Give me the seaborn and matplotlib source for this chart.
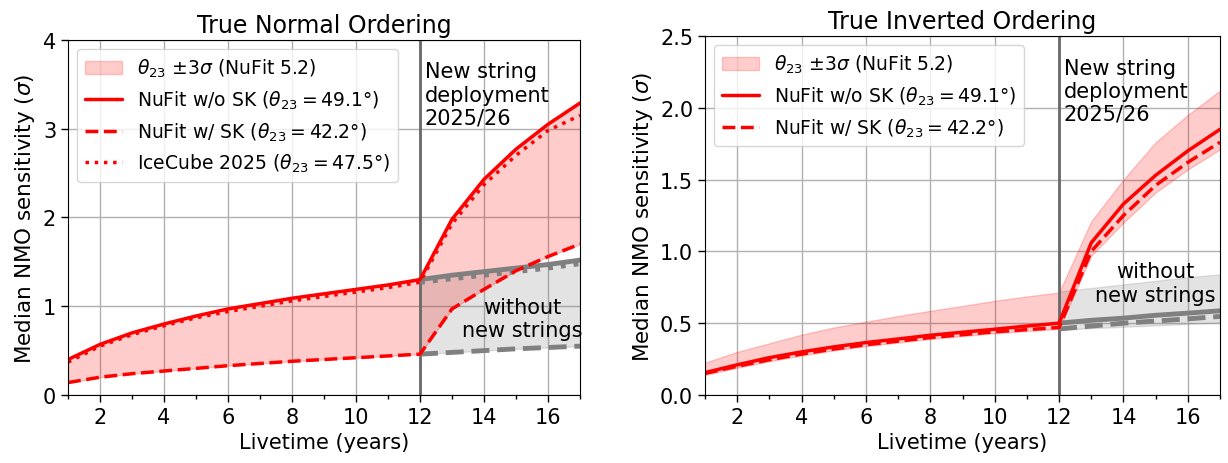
import numpy as np
import matplotlib
matplotlib.use("Agg")
import matplotlib.pyplot as plt
import seaborn as sns

# data
years = np.arange(1, 18)
years_nostr = np.arange(12, 18)

# True normal ordering
no_wo_sk = [0.40, 0.57, 0.70, 0.80, 0.89, 0.97, 1.03, 1.09, 1.14, 1.19, 1.24, 1.30, 1.98, 2.43, 2.77, 3.05, 3.29]
no_w_sk = [0.14, 0.20, 0.24, 0.27, 0.30, 0.33, 0.355, 0.38, 0.40, 0.42, 0.44, 0.46, 0.97, 1.19, 1.40, 1.56, 1.70]
no_ic = [0.37, 0.55, 0.68, 0.78, 0.87, 0.94, 1.00, 1.06, 1.11, 1.16, 1.21, 1.27, 1.93, 2.37, 2.70, 2.98, 3.15]
no_wo_sk_nostr = [1.30, 1.35, 1.39, 1.43, 1.47, 1.52]
no_ic_nostr = [1.27, 1.31, 1.35, 1.39, 1.43, 1.48]
no_w_sk_nostr = [0.46, 0.48, 0.50, 0.52, 0.535, 0.55]

# True inverted ordering
io_wo_sk = [0.156, 0.21, 0.26, 0.30, 0.335, 0.365, 0.39, 0.416, 0.437, 0.458, 0.48, 0.50, 1.06, 1.33, 1.53, 1.70, 1.85]
io_w_sk = [0.15, 0.20, 0.245, 0.285, 0.32, 0.35, 0.375, 0.40, 0.42, 0.44, 0.455, 0.47, 1.00, 1.25, 1.46, 1.62, 1.76]
io_band_hi = [0.225, 0.30, 0.36, 0.42, 0.47, 0.51, 0.55, 0.586, 0.62, 0.656, 0.686, 0.714, 1.21, 1.50, 1.76, 1.95, 2.12]
io_band_lo = [0.14, 0.19, 0.235, 0.275, 0.31, 0.34, 0.365, 0.39, 0.41, 0.43, 0.445, 0.46, 0.97, 1.20, 1.41, 1.57, 1.71]
io_wo_sk_nostr = [0.50, 0.52, 0.535, 0.555, 0.57, 0.586]
io_w_sk_nostr = [0.46, 0.48, 0.50, 0.515, 0.53, 0.547]
io_nostr_hi = [0.72, 0.745, 0.77, 0.795, 0.82, 0.84]
io_nostr_lo = [0.455, 0.465, 0.475, 0.485, 0.495, 0.505]

lbl_band = r'$\theta_{23}$ $\pm3\sigma$ (NuFit 5.2)'
lbl_wo = r'NuFit w/o SK ($\theta_{23} = 49.1°$)'
lbl_w = r'NuFit w/ SK ($\theta_{23} = 42.2°$)'
lbl_ic = r'IceCube 2025 ($\theta_{23} = 47.5°$)'

sns.set_style("ticks", {"axes.grid": True})
plt.rcParams.update({
    'font.family': ['DejaVu Sans'],
    'text.color': 'black',
    'axes.labelcolor': 'black',
    'axes.edgecolor': 'black',
    'grid.color': '#b0b0b0',
    'xtick.color': 'black', 'ytick.color': 'black',
    'xtick.labelsize': 15, 'ytick.labelsize': 15,
    'axes.labelsize': 15, 'axes.titlesize': 17,
    'mathtext.fontset': 'dejavusans',
})

fig = plt.figure(figsize=(12.28, 4.64), dpi=100)
ax1 = fig.add_axes([0.0554, 0.1466, 0.4169, 0.765])
ax2 = fig.add_axes([0.5741, 0.1466, 0.4194, 0.7737])

RED_LW = 2.5
GRAY_LW = 3.5


def style_axis(ax, ymax, yticks, title):
    ax.set_xlim(1, 17)
    ax.set_ylim(0, ymax)
    ax.set_xticks(range(2, 17, 2))
    ax.set_xticks(range(1, 18, 2), minor=True)
    ax.set_yticks(yticks)
    ax.tick_params(which='major', length=5, width=1)
    ax.tick_params(which='minor', length=3, width=1)
    ax.grid(True, which='major', color='#b0b0b0', lw=1)
    ax.set_xlabel('Livetime (years)')
    ax.set_ylabel(r'Median NMO sensitivity ($\sigma$)', fontsize=15.5)
    ax.set_title(title)
    ax.axvline(12, color='dimgray', lw=2, zorder=1)
    ax.text(12.15, ymax * 0.94, 'New string\ndeployment\n2025/26', fontsize=15,
            va='top', ha='left')
    for s in ax.spines.values():
        s.set_color('black')


# 1. Normal ordering
ax = ax1
ax.fill_between(years_nostr, no_w_sk_nostr, no_wo_sk_nostr, color='gray', alpha=0.22, lw=1)
band = ax.fill_between(years, no_w_sk, no_wo_sk, color='red', alpha=0.2, lw=1)
sns.lineplot(x=years_nostr, y=no_wo_sk_nostr, ax=ax, color='gray', lw=GRAY_LW)
sns.lineplot(x=years_nostr, y=no_ic_nostr, ax=ax, color='gray', lw=GRAY_LW, linestyle=':')
sns.lineplot(x=years_nostr, y=no_w_sk_nostr, ax=ax, color='gray', lw=GRAY_LW, linestyle='--')
sns.lineplot(x=years, y=no_wo_sk, ax=ax, color='red', lw=RED_LW)
sns.lineplot(x=years, y=no_w_sk, ax=ax, color='red', lw=RED_LW, linestyle='--')
sns.lineplot(x=years, y=no_ic, ax=ax, color='red', lw=RED_LW, linestyle=':')
h = ax.get_lines()
ax.legend([band, h[-3], h[-2], h[-1]], [lbl_band, lbl_wo, lbl_w, lbl_ic],
          loc='upper left', fontsize=13.5)
ax.text(15.2, 0.86, 'without\nnew strings', fontsize=15, ha='center', va='center')
style_axis(ax, 4, [0, 1, 2, 3, 4], 'True Normal Ordering')

# 2. Inverted ordering
ax = ax2
ax.fill_between(years_nostr, io_nostr_lo, io_nostr_hi, color='gray', alpha=0.22, lw=1)
band = ax.fill_between(years, io_band_lo, io_band_hi, color='red', alpha=0.2, lw=1)
sns.lineplot(x=years_nostr, y=io_wo_sk_nostr, ax=ax, color='gray', lw=GRAY_LW)
sns.lineplot(x=years_nostr, y=io_w_sk_nostr, ax=ax, color='gray', lw=GRAY_LW, linestyle='--')
sns.lineplot(x=years, y=io_wo_sk, ax=ax, color='red', lw=RED_LW)
sns.lineplot(x=years, y=io_w_sk, ax=ax, color='red', lw=RED_LW, linestyle='--')
h = ax.get_lines()
ax.legend([band, h[-2], h[-1]], [lbl_band, lbl_wo, lbl_w],
          loc='upper left', fontsize=13.5)
ax.text(15.0, 0.78, 'without\nnew strings', fontsize=15, ha='center', va='center')
style_axis(ax, 2.5, [0, 0.5, 1.0, 1.5, 2.0, 2.5], 'True Inverted Ordering')
ax.set_yticklabels(['0.0', '0.5', '1.0', '1.5', '2.0', '2.5'])

fig.savefig('out.png', dpi=100)
